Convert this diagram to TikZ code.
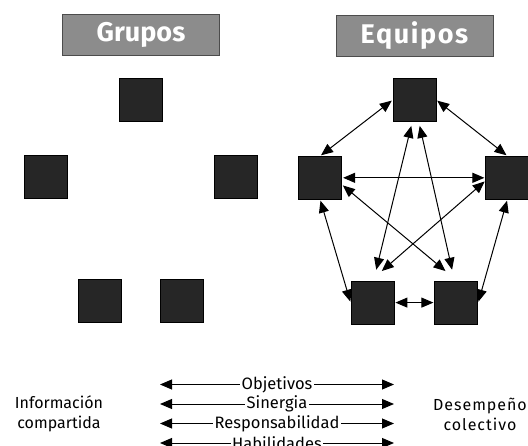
\documentclass[tikz,border=0pt]{standalone}
\usepackage{fontspec}
\setmainfont{Fira Sans}
\usetikzlibrary{shapes, arrows.meta, positioning}

\begin{document}
\begin{tikzpicture}[x=1pt, y=-1pt,
    >={Triangle[length=12pt, width=10pt]},
    heading/.style={rectangle, draw=black!70, fill=black!45, text=white, minimum width=157pt, minimum height=41pt, font=\fontsize{27}{30}\selectfont\bfseries},
    member/.style={rectangle, draw, thick, fill=black!85, minimum size=43pt, inner sep=0pt},
    tie/.style={<->, line width=1pt, shorten <=1pt, shorten >=1pt},
    trait/.style={fill=white, inner sep=1.5pt, font=\fontsize{16.5}{17}\selectfont},
    side/.style={align=center, font=\fontsize{16}{20}\selectfont}
 ]
\useasboundingbox (0,0) rectangle (528,445);

\node[member] (GroupTop) at (141,99.5) {};
\node[heading, above=22pt of GroupTop] (GroupTitle) {Grupos};
\node[member, below left=34pt and 51.5pt of GroupTop] (GroupLeft) {};
\node[member, below right=34pt and 51pt of GroupTop] (GroupRight) {};
\node[member, below right=80pt and 10pt of GroupLeft] (GroupLowLeft) {};
\node[member, right=39pt of GroupLowLeft] (GroupLowRight) {};

\node[member] (TeamTop) at (414.5,100) {};
\node[heading, above=22pt of TeamTop] (TeamTitle) {\addfontfeature{LetterSpace=6}Equipos};
\node[member, below left=34pt and 50.5pt of TeamTop] (TeamLeft) {};
\node[member, below right=34pt and 49pt of TeamTop] (TeamRight) {};
\node[member, below right=81pt and 8.5pt of TeamLeft] (TeamLowLeft) {};
\node[member, right=40pt of TeamLowLeft] (TeamLowRight) {};

\draw[tie] (TeamTop.west) -- (TeamLeft.north);
\draw[tie] (TeamTop.east) -- (TeamRight.north);
\draw[tie] (TeamLeft.east) -- (TeamRight.west);
\draw[tie] (TeamLeft.south) -- (TeamLowLeft.west);
\draw[tie] (TeamRight.south) -- (TeamLowRight.east);
\draw[tie] (TeamLowLeft.east) -- (TeamLowRight.west);
\draw[tie] ([xshift=-3pt, yshift=-3pt]TeamTop.south) -- ([xshift=3.5pt, yshift=10pt]TeamLowLeft.north);
\draw[tie] ([xshift=5pt, yshift=-3pt]TeamTop.south) -- ([xshift=-4pt, yshift=10pt]TeamLowRight.north);
\draw[tie] ([yshift=-7pt]TeamLeft.east) -- ([xshift=-10pt, yshift=9pt]TeamLowRight.north);
\draw[tie] ([yshift=-3pt]TeamRight.west) -- ([xshift=8.5pt, yshift=9pt]TeamLowLeft.north);

\node[side] (Info) at (59,414) {Información\\compartida};
\node[side] (Outcome) at (480,414) {\addfontfeature{LetterSpace=6}Desempeño\\\addfontfeature{LetterSpace=6}colectivo};

\foreach \word [count=\i] in {Objetivos, Sinergia, Responsabilidad, Habilidades} {
  \coordinate (From\i) at (160,365+19.5*\i);
  \coordinate (To\i) at (394,365+19.5*\i);
  \draw[<->, line width=1pt] (From\i) -- node[trait] {\word} (To\i);
}

\end{tikzpicture}
\end{document}
